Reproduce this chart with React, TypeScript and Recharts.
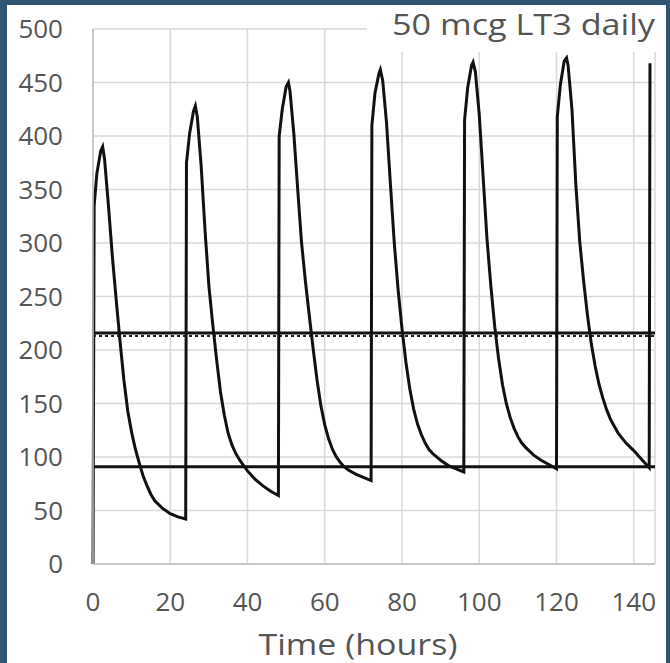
import React from 'react';
import { LineChart, Line, XAxis, YAxis, CartesianGrid, ReferenceLine } from 'recharts';

// Serum T3 level over time, one block per daily dose
const dose1Hours = [0, 0.3, 1, 2, 2.5, 3, 4, 5, 6, 7, 8, 9, 10, 11, 12, 13, 14, 15, 16, 18, 20, 22, 24];
const dose1Levels = [0, 335, 365, 386, 390, 378, 335, 288, 247, 208, 172, 143, 123, 107, 94, 82, 73, 65, 59, 52, 47, 44, 42];

const dose2Hours = [24.2, 25, 26, 26.5, 27, 28, 29, 30, 31, 32, 33, 34, 35, 36, 37, 38, 39, 40, 42, 44, 46, 48];
const dose2Levels = [375, 402, 423, 428, 418, 372, 312, 260, 224, 191, 161, 139, 122, 111, 103, 97, 92, 87, 79, 73, 68, 64];

const dose3Hours = [48.2, 49, 50, 50.6, 51, 52, 53, 54, 55, 56, 57, 58, 59, 60, 61, 62, 63, 64, 65, 66, 68, 70, 72];
const dose3Levels = [400, 425, 446, 450, 442, 402, 350, 300, 264, 232, 201, 172, 148, 130, 117, 107, 100, 95, 91, 88, 84, 81, 78];

const dose4Hours = [72.2, 73, 74, 74.4, 75, 76, 77, 78, 79, 80, 81, 82, 83, 84, 85, 86, 87, 88, 90, 92, 94, 96];
const dose4Levels = [410, 440, 458, 462, 452, 412, 355, 300, 256, 220, 189, 164, 145, 131, 121, 113, 107, 103, 97, 92, 89, 86];

const dose5Hours = [96.2, 97, 98, 98.4, 99, 100, 101, 102, 103, 104, 105, 106, 107, 108, 109, 110, 111, 112, 114, 116, 118, 120];
const dose5Levels = [415, 445, 466, 469, 460, 420, 362, 304, 260, 222, 192, 168, 150, 137, 127, 119, 113, 109, 102, 97, 93, 89];

const dose6Hours = [120.2, 121, 122, 122.6, 123, 124, 125, 126, 127, 128, 129, 130, 131, 132, 133, 134, 136, 138, 140, 142, 144];
const dose6Levels = [418, 448, 470, 473, 466, 425, 355, 302, 265, 233, 206, 185, 168, 155, 144, 135, 122, 113, 106, 98, 90];

const dose7Hours = [144.2];
const dose7Levels = [468];

const xTicks = [0, 20, 40, 60, 80, 100, 120, 140];
const yTicks = [0, 50, 100, 150, 200, 250, 300, 350, 400, 450, 500];

const upperLimit = 216;
const upperDotted = 213;
const lowerLimit = 91;

const chartTitle = '50 mcg LT3 daily';
const xAxisTitle = 'Time (hours)';

const doses: [number[], number[]][] = [
  [dose1Hours, dose1Levels],
  [dose2Hours, dose2Levels],
  [dose3Hours, dose3Levels],
  [dose4Hours, dose4Levels],
  [dose5Hours, dose5Levels],
  [dose6Hours, dose6Levels],
  [dose7Hours, dose7Levels],
];

const data = doses.flatMap(([h, l]) => h.map((t, i) => ({ hour: t, level: l[i] })));

const FONT = '"Open Sans", sans-serif';
const GREY = '#555555';

const renderXLabel = (props: any) => {
  const vb = props.viewBox || { x: 93, y: 564, width: 562, height: 99 };
  return (
    <text
      x={vb.x + vb.width / 2 - 16}
      y={vb.y + 91}
      textAnchor="middle"
      fontFamily={FONT}
      fontSize={29}
      fill={GREY}
      textLength={199}
      lengthAdjust="spacingAndGlyphs"
    >
      {xAxisTitle}
    </text>
  );
};

export default function App() {
  return (
    <div style={{ position: 'absolute', left: 0, top: 0, width: 670, height: 663, background: '#2f5573' }}>
      <div style={{ position: 'absolute', left: 7, top: 5, width: 659, height: 658, background: '#ffffff' }} />
      <div style={{ position: 'absolute', left: 0, top: 0 }}>
        <LineChart width={670} height={663} data={data} margin={{ top: 29, right: 15, bottom: 0, left: 0 }}>
          <CartesianGrid stroke="#d9d9d9" strokeWidth={1.5} />
          <XAxis
            type="number"
            dataKey="hour"
            domain={[0, 145.5]}
            ticks={xTicks}
            tickLine={false}
            tickSize={0}
            tickMargin={29}
            height={99}
            axisLine={{ stroke: '#bfbfbf', strokeWidth: 1.5 }}
            tick={{ fontSize: 26, fill: GREY, fontFamily: FONT }}
            label={{ value: xAxisTitle, content: renderXLabel }}
          />
          <YAxis
            type="number"
            domain={[0, 500]}
            ticks={yTicks}
            width={93}
            tickLine={false}
            tickSize={0}
            tickMargin={30}
            axisLine={{ stroke: '#bfbfbf', strokeWidth: 1.5 }}
            tick={{ fontSize: 26, fill: GREY, fontFamily: FONT }}
          />
          <ReferenceLine y={upperDotted} stroke="#222" strokeWidth={2} strokeDasharray="3 3" />
          <ReferenceLine y={upperLimit} stroke="#111" strokeWidth={3} />
          <ReferenceLine y={lowerLimit} stroke="#111" strokeWidth={3} />
          <Line
            type="linear"
            dataKey="level"
            stroke="#111"
            strokeWidth={3}
            dot={false}
            isAnimationActive={false}
          />
        </LineChart>
      </div>
      <svg style={{ position: 'absolute', left: 0, top: 0, pointerEvents: 'none' }} width={670} height={663}>
        <rect x={367} y={5} width={297} height={47} fill="#ffffff" />
        <text
          x={392}
          y={35}
          fontFamily={FONT}
          fontSize={29}
          fill={GREY}
          textLength={263}
          lengthAdjust="spacingAndGlyphs"
        >
          {chartTitle}
        </text>
      </svg>
    </div>
  );
}
